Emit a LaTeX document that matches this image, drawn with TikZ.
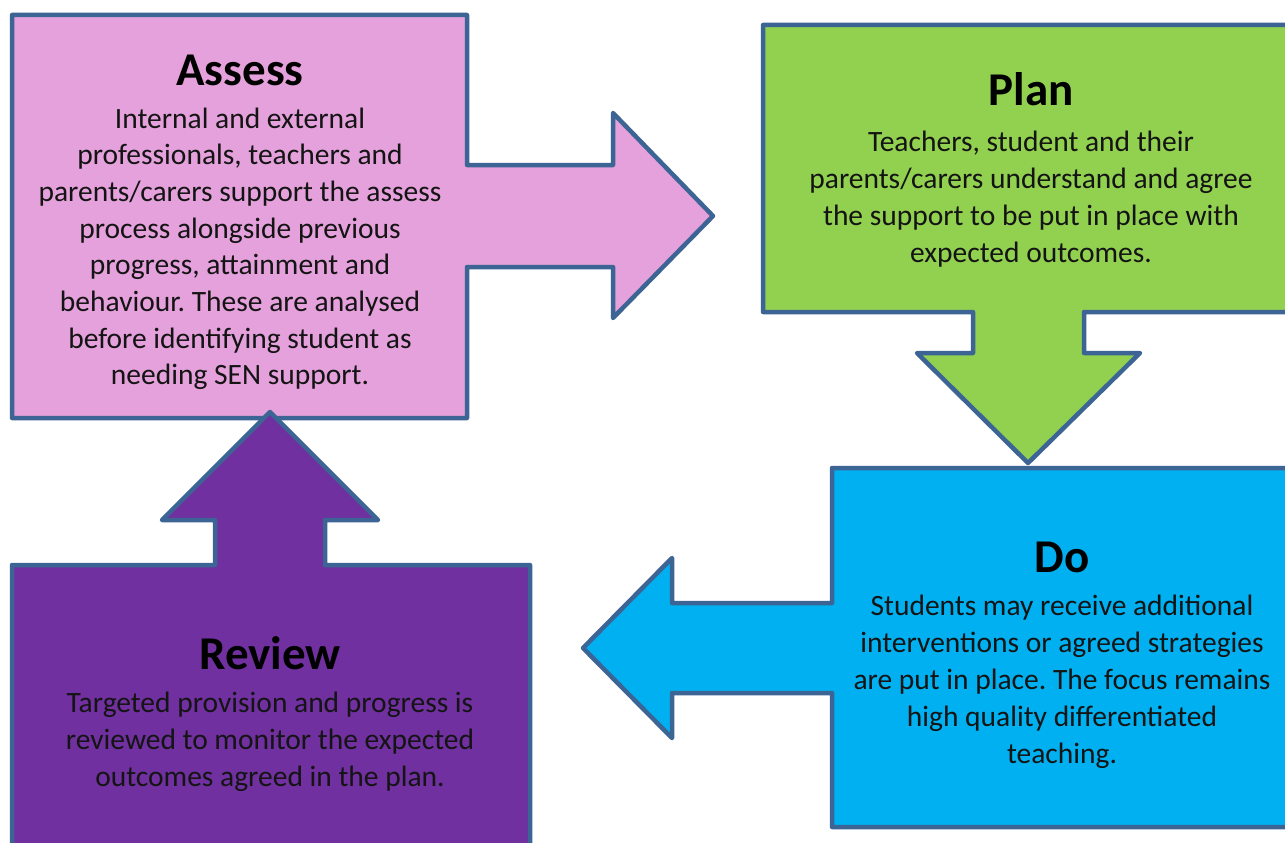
\documentclass[tikz,border=0pt]{standalone}
\usepackage{fontspec}
\setmainfont{Carlito}
\frenchspacing
\definecolor{edgeblue}{RGB}{60,100,148}
\definecolor{pinkfill}{RGB}{228,161,219}
\definecolor{greenfill}{RGB}{146,208,80}
\definecolor{bluefill}{RGB}{0,176,240}
\definecolor{purplefill}{RGB}{112,48,160}
\begin{document}
\begin{tikzpicture}[x=1pt,y=-1pt,
  shapeline/.style={draw=edgeblue,line width=4.5pt,line join=round},
  titletext/.style={font=\fontsize{47}{56}\selectfont\bfseries,anchor=base,inner sep=0pt,text=black},
  bodytext/.style={font=\fontsize{29.5}{36.7}\selectfont\frenchspacing,anchor=base,inner sep=0pt,text=black!92}]
\useasboundingbox (0,0) rectangle (1285,843);
\clip (0,0) rectangle (1285,843);
\fill[white] (0,0) rectangle (1285,843);

% Assess: box with right arrow
\path[shapeline,fill=pinkfill] (12,15) -- (467,15) -- (467,165) -- (613,165) -- (613,113)
  -- (713,216) -- (613,318) -- (613,267) -- (467,267) -- (467,418) -- (12,418) -- cycle;
% Plan: box with down arrow
\path[shapeline,fill=greenfill] (763,25) -- (1300,25) -- (1300,312) -- (1084,312) -- (1084,353)
  -- (1140,353) -- (1028,463) -- (917,353) -- (973,353) -- (973,312) -- (763,312) -- cycle;
% Do: box with left arrow
\path[shapeline,fill=bluefill] (832,468) -- (1300,468) -- (1300,827) -- (832,827) -- (832,693)
  -- (672,693) -- (672,738) -- (583,648) -- (672,558) -- (672,603) -- (832,603) -- cycle;
% Review: box with up arrow
\path[shapeline,fill=purplefill] (12,565) -- (215,565) -- (215,520) -- (162,520) -- (270,412)
  -- (378,520) -- (325,520) -- (325,565) -- (530,565) -- (530,870) -- (12,870) -- cycle;

% Texts
\node[titletext] (assesstitle) at (240,85) {Assess};
\foreach \t [count=\i] in {{Internal and external},{professionals, teachers and},{parents/carers support the assess},{process alongside previous},{progress, attainment and},{behaviour. These are analysed},{before identifying student as},{needing SEN support.}}
  \node[bodytext] (assess\i) at (240,{128+36.7*(\i-1)}) {\t};

\node[titletext] (plantitle) at (1031,106) {Plan};
\foreach \t [count=\i] in {{Teachers, student and their},{parents/carers understand and agree},{the support to be put in place with},{expected outcomes.}}
  \node[bodytext] (plan\i) at (1031,{151+37*(\i-1)}) {\t};

\node[titletext] (dotitle) at (1062,572) {Do};
\foreach \t [count=\i] in {{Students may receive additional},{interventions or agreed strategies},{are put in place. The focus remains},{high quality differentiated},{teaching.}}
  \node[bodytext] (do\i) at (1062,{615+37*(\i-1)}) {\t};

\node[titletext] (reviewtitle) at (270,669) {Review};
\foreach \t [count=\i] in {{Targeted provision and progress is},{reviewed to monitor the expected},{outcomes agreed in the plan.}}
  \node[bodytext] (review\i) at (270,{712+37*(\i-1)}) {\t};
\end{tikzpicture}
\end{document}
